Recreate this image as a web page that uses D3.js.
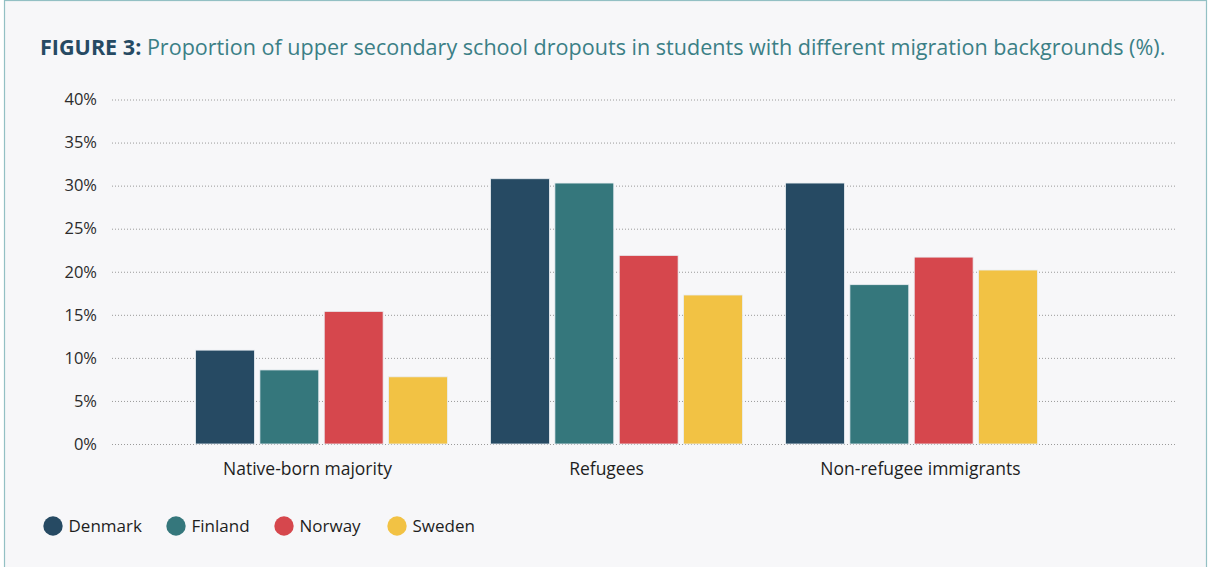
<!DOCTYPE html>
<html>
<head>
<meta charset="utf-8">
<script src="https://cdn.jsdelivr.net/npm/d3@7"></script>
<style>
  body { margin: 0; background: #fff; }
  svg { display: block; font-family: "Open Sans", "Noto Sans", sans-serif; }
</style>
</head>
<body>
<div class="chart"></div>
<script>
const categories = ["Native-born majority", "Refugees", "Non-refugee immigrants"];
const countries = ["Denmark", "Finland", "Norway", "Sweden"];
const colours = ["#264a63", "#35777c", "#d6474d", "#f2c244"];
const denmark = [10.9, 30.8, 30.3];
const finland = [8.6, 30.3, 18.5];
const norway = [15.4, 21.9, 21.7];
const sweden = [7.8, 17.3, 20.2];
const yTicks = [0, 5, 10, 15, 20, 25, 30, 35, 40];
const titleBold = "FIGURE 3:";
const titleRest = " Proportion of upper secondary school dropouts in students with different migration backgrounds (%).";

const series = [denmark, finland, norway, sweden];
const rows = categories.map((c, i) => ({
    category: c,
    values: countries.map((k, j) => ({country: k, value: series[j][i]}))
}));

const width = 1209, height = 567;
const font = "'Open Sans', 'Noto Sans', sans-serif";
const svg = d3.select(".chart")
    .append("svg")
    .attr("width", width)
    .attr("height", height)
    .attr("viewBox", [0, 0, width, height]);

// panel
svg.append("rect")
    .attr("x", 4.5)
    .attr("y", 0.5)
    .attr("width", 1202)
    .attr("height", height + 10)
    .attr("fill", "#f7f7f9")
    .attr("stroke", "#93c0c4")
    .attr("stroke-width", 1.2);

// title, scaled to the reference width
const title = svg.append("text")
    .attr("x", 40)
    .attr("y", 55)
    .attr("font-size", 20)
    .attr("font-weight", 500);
title.append("tspan")
    .attr("font-weight", "bold")
    .attr("fill", "#264a63")
    .text(titleBold);
title.append("tspan")
    .attr("fill", "#3b7f86")
    .text(titleRest);
const tw = title.node().getComputedTextLength();
title.attr("font-size", 20 * 1126 / tw);

const yScale = d3.scaleLinear()
    .domain([0, 40])
    .range([444, 99.5]);

const x0 = d3.scaleBand()
    .domain(categories)
    .range([174, 1059])
    .paddingInner(0.146)
    .paddingOuter(0.073);

const x1 = d3.scaleBand()
    .domain(countries)
    .range([0, x0.bandwidth()])
    .paddingInner(0.085);

const colour = d3.scaleOrdinal()
    .domain(countries)
    .range(colours);

// y axis + dotted grid
svg.append("g")
    .attr("transform", "translate(112,0)")
    .call(d3.axisLeft(yScale).tickValues(yTicks).tickFormat(d => d + "%").tickSize(0).tickPadding(15))
    .call(g => g.select(".domain").remove())
    .call(g => g.selectAll(".tick text")
        .attr("font-family", font)
        .attr("font-size", 16.5)
        .attr("fill", "#2b2b2b"))
    .call(g => g.selectAll(".tick").append("line")
        .attr("x1", 0)
        .attr("x2", 1175 - 112)
        .attr("stroke", "#9a9a9a")
        .attr("stroke-width", 1)
        .attr("stroke-dasharray", "1,2"));

// bars
svg.append("g")
  .selectAll("g")
  .data(rows)
  .join("g")
    .attr("transform", d => `translate(${x0(d.category)},0)`)
  .selectAll("rect")
  .data(d => d.values)
  .join("rect")
    .attr("x", d => x1(d.country))
    .attr("y", d => yScale(d.value))
    .attr("width", x1.bandwidth())
    .attr("height", d => yScale(0) - yScale(d.value))
    .attr("fill", d => colour(d.country))
    .attr("stroke", "#e9eef2")
    .attr("stroke-width", 0.8);

// category labels (the original sets them a little off the group centres)
const labelShift = [-14, -10, 9];
svg.append("g")
    .attr("transform", "translate(0,444)")
    .call(d3.axisBottom(x0).tickSize(0).tickPadding(19))
    .call(g => g.select(".domain").remove())
    .call(g => g.selectAll(".tick text")
        .attr("font-family", font)
        .attr("font-size", 17.5)
        .attr("fill", "#1e1e1e")
        .attr("dx", (d, i) => labelShift[i]));

// legend
const legendX = [53, 176, 284, 397];
const legend = svg.append("g")
  .selectAll("g")
  .data(countries)
  .join("g")
    .attr("transform", (d, i) => `translate(${legendX[i]},526)`);
legend.append("circle")
    .attr("r", 9.7)
    .attr("fill", d => colour(d));
legend.append("text")
    .attr("x", 15.5)
    .attr("dy", "0.35em")
    .attr("font-size", 17)
    .attr("fill", "#1e1e1e")
    .text(d => d);
</script>
</body>
</html>
